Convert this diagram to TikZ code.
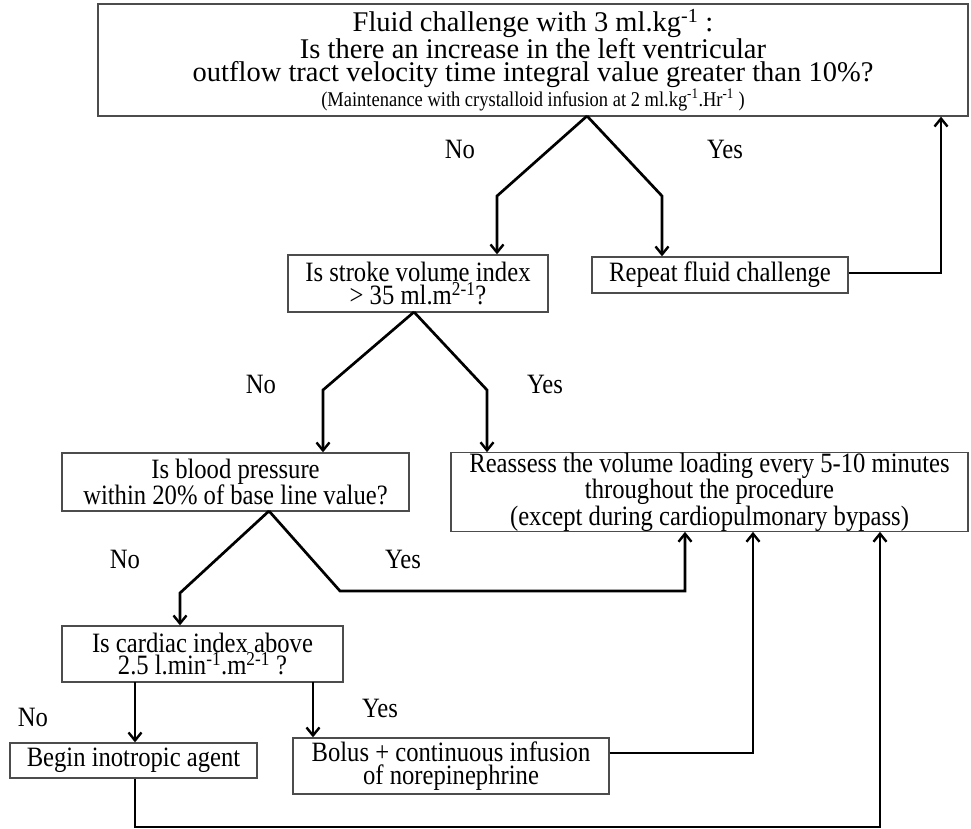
\documentclass[tikz,border=0pt]{standalone}
\usepackage{fontspec}
\setmainfont{Liberation Serif}[FakeStretch=0.88]
\newfontfamily\topfont{Liberation Serif}
\usetikzlibrary{arrows.meta}
\begin{document}
\begin{tikzpicture}[x=1pt,y=-1pt,
  box/.style={draw=black!70, line width=1.3pt, inner sep=0pt, align=center,
              font=\fontsize{28}{22.5}\selectfont},
  conn/.style={line width=2.7pt, line join=miter,
               -{Straight Barb[length=8pt,width=13pt,line width=2.4pt]}},
  lbl/.style={font=\fontsize{28}{28}\selectfont, inner sep=0pt}]
\useasboundingbox (0,0) rectangle (971,829);

% boxes
\node[box, minimum width=870pt, minimum height=112pt, font=\topfont\fontsize{28.5}{23}\selectfont] (top) at (533,60)
  {Fluid challenge with 3 ml.kg\textsuperscript{-1} :\\
   Is there an increase in the left ventricular\\
   outflow tract velocity time integral value greater than 10\%?\\
   {\rmfamily\fontsize{21}{21}\selectfont (Maintenance with crystalloid infusion at 2 ml.kg\textsuperscript{-1}.Hr\textsuperscript{-1} )}};
\node[box, minimum width=260pt, minimum height=57pt] (stroke) at (418,283.5)
  {Is stroke volume index\\ > 35 ml.m\textsuperscript{2-1}?};
\node[box, minimum width=256pt, minimum height=36pt] (repeat) at (720,275)
  {Repeat fluid challenge};
\node[box, minimum width=347pt, minimum height=58pt] (blood) at (235.5,482)
  {Is blood pressure\\ within 20\% of base line value?};
\node[box, minimum width=517pt, minimum height=78pt] (reassess) at (709.5,492)
  {Reassess the volume loading every 5-10 minutes\\ throughout the procedure\\ (except during cardiopulmonary bypass)};
\node[box, minimum width=281pt, minimum height=56pt] (cardiac) at (202.5,654)
  {Is cardiac index above\\ 2.5 l.min\textsuperscript{-1}.m\textsuperscript{2-1} ?};
\node[box, minimum width=247pt, minimum height=35pt] (begin) at (133.5,760.5)
  {Begin inotropic agent};
\node[box, minimum width=316pt, minimum height=56pt] (bolus) at (451,766)
  {Bolus + continuous infusion\\ of norepinephrine};

% labels
\node[lbl] (no1) at (460,149) {No};
\node[lbl] (yes1) at (725,149) {Yes};
\node[lbl] (no2) at (261,384) {No};
\node[lbl] (yes2) at (545,384) {Yes};
\node[lbl] (no3) at (125,559) {No};
\node[lbl] (yes3) at (403,559) {Yes};
\node[lbl] (no4) at (33,717) {No};
\node[lbl] (yes4) at (380,708) {Yes};

% coordinates
\coordinate (a1) at (587,116);
\coordinate (b1l) at (497,196);
\coordinate (b1r) at (662,196);
\coordinate (r1) at (941,273);
\coordinate (a2) at (414,312);
\coordinate (b2l) at (323,390);
\coordinate (b2r) at (487,390);
\coordinate (a3) at (269,511);
\coordinate (b3l) at (180,593);
\coordinate (b3r) at (340,591);
\coordinate (c3) at (685,591);
\coordinate (c4l) at (135,682);
\coordinate (c4r) at (313,682);
\coordinate (c5) at (753,753);
\coordinate (c6a) at (135,827);
\coordinate (c6b) at (880,827);

% connectors
\draw[conn] (a1) -- (b1l) -- (b1l |- stroke.north);
\draw[conn] (a1) -- (b1r) -- (b1r |- repeat.north);
\draw[conn] (repeat.east |- r1) -- (r1) -- (r1 |- top.south);
\draw[conn] (a2) -- (b2l) -- (b2l |- blood.north);
\draw[conn] (a2) -- (b2r) -- (b2r |- reassess.north);
\draw[conn] (a3) -- (b3l) -- (b3l |- cardiac.north);
\draw[conn] (a3) -- (b3r) -- (c3) -- (c3 |- reassess.south);
\draw[conn] (c4l) -- (c4l |- begin.north);
\draw[conn] (c4r) -- (c4r |- bolus.north);
\draw[conn] (bolus.east |- c5) -- (c5) -- (c5 |- reassess.south);
\draw[conn] (begin.south -| c6a) -- (c6a) -- (c6b) -- (c6b |- reassess.south);
\end{tikzpicture}
\end{document}
